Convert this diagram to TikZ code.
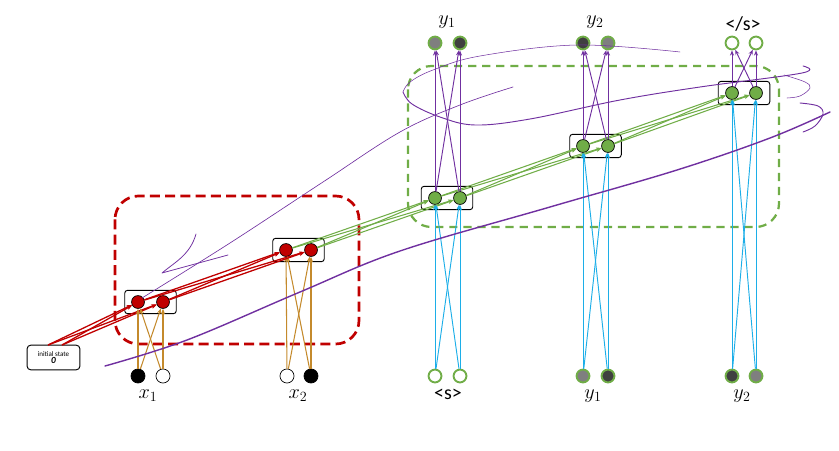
\documentclass[tikz,border=0pt]{standalone}
\usepackage{fontspec}
\setsansfont{Carlito}
\usepackage{tikz}
\usetikzlibrary{arrows.meta}
\definecolor{encred}{HTML}{C00000}
\definecolor{decgreen}{HTML}{70AD47}
\definecolor{inblue}{HTML}{1CAEE8}
\definecolor{ingold}{HTML}{C48A2C}
\definecolor{outpurple}{HTML}{7030A0}
\definecolor{inkpurple}{HTML}{7030A0}
\definecolor{outgrey}{HTML}{7F7F7F}
\definecolor{outdark}{HTML}{404040}

\begin{document}
\begin{tikzpicture}[x=0.03cm,y=-0.03cm,
  unit/.style={circle,draw=black,line width=0.6pt,minimum size=11pt,inner sep=0pt},
  xunit/.style={unit,minimum size=12pt},
  outunit/.style={circle,draw=decgreen,line width=1.6pt,minimum size=11pt,inner sep=0pt},
  pairbox/.style={draw=black,rounded corners=2.5pt,line width=0.8pt,minimum width=44pt,minimum height=20pt,inner sep=0pt},
  lbl/.style={font=\LARGE},
  tag/.style={font=\sffamily\fontsize{17}{19}\selectfont},
  tip/.style={-{Stealth[length=4.5pt,width=3.5pt]}},
  recur/.style={tip,encred,line width=1.1pt},
  decrec/.style={tip,decgreen,line width=0.9pt},
  goldin/.style={tip,ingold,line width=0.9pt},
  bluein/.style={tip,inblue,line width=0.8pt},
  purpout/.style={tip,outpurple,line width=0.8pt},
  ink/.style={inkpurple,line cap=round,line join=round}]
\useasboundingbox (0,0) rectangle (839,451);

% encoder / decoder regions
\draw[encred,line width=2.3pt,dash pattern=on 8.5pt off 4.5pt,rounded corners=20pt] (115,196) rectangle (359,344);
\draw[decgreen,line width=1.9pt,dash pattern=on 7pt off 5pt,rounded corners=20pt] (408,66) rectangle (779,227);

% hidden state boxes
\node[pairbox] (b1) at (150.5,302) {};
\node[pairbox] (b2) at (298.5,250) {};
\node[pairbox] (b3) at (447,198) {};
\node[pairbox] (b4) at (595.5,146) {};
\node[pairbox] (b5) at (744,93) {};

% initial state
\node[draw,rounded corners=3pt,line width=0.8pt,minimum width=45pt,minimum height=21pt,inner sep=1pt,
  align=center,font=\sffamily\fontsize{6}{6.5}\selectfont] (init) at (53.5,357.5)
  {initial state\\[0pt]{\fontsize{8}{8}\selectfont\bfseries\itshape 0}};
\coordinate (s0a) at (48,345);
\coordinate (s0b) at (62,345);

% hidden units
\node[unit,fill=encred] (h1a) at (138,302) {};
\node[unit,fill=encred] (h1b) at (163,302) {};
\node[unit,fill=encred] (h2a) at (286,250) {};
\node[unit,fill=encred] (h2b) at (311,250) {};
\node[unit,fill=decgreen] (d1a) at (435,198) {};
\node[unit,fill=decgreen] (d1b) at (460,198) {};
\node[unit,fill=decgreen] (d2a) at (583,146) {};
\node[unit,fill=decgreen] (d2b) at (608,146) {};
\node[unit,fill=decgreen] (d3a) at (732,93) {};
\node[unit,fill=decgreen] (d3b) at (756,93) {};

% source inputs
\node[xunit,fill=black] (x1a) at (138,376) {};
\node[xunit,fill=white] (x1b) at (163,376) {};
\node[xunit,fill=white] (x2a) at (287,376) {};
\node[xunit,fill=black] (x2b) at (311,376) {};

% decoder inputs
\node[outunit,fill=white] (i1a) at (435,376) {};
\node[outunit,fill=white] (i1b) at (460,376) {};
\node[outunit,fill=outgrey] (i2a) at (583,376) {};
\node[outunit,fill=outdark] (i2b) at (608,376) {};
\node[outunit,fill=outdark] (i3a) at (732,376) {};
\node[outunit,fill=outgrey] (i3b) at (756,376) {};

% outputs
\node[outunit,fill=outgrey] (o1a) at (435,43) {};
\node[outunit,fill=outdark] (o1b) at (460,43) {};
\node[outunit,fill=outdark] (o2a) at (583,43) {};
\node[outunit,fill=outgrey] (o2b) at (608,43) {};
\node[outunit,fill=white] (o3a) at (732,43) {};
\node[outunit,fill=white] (o3b) at (756,43) {};

% labels
\node[lbl] (lx1) at (148,396) {$x_1$};
\node[lbl] (lx2) at (298,396) {$x_2$};
\node[tag] (ls) at (448,394) {\textless s\textgreater};
\node[lbl] (ly1b) at (593,396) {$y_1$};
\node[lbl] (ly2b) at (742,396) {$y_2$};
\node[lbl] (ly1t) at (447,22) {$y_1$};
\node[lbl] (ly2t) at (595,22) {$y_2$};
\node[tag] (le) at (743,24) {\textless/s\textgreater};

% connections
\foreach \s in {s0a,s0b}
  \foreach \t in {h1a,h1b}
    \draw[recur] (\s) -- (\t);
\foreach \s in {a,b}
  \foreach \t in {a,b} {
    \draw[recur] (h1\s) -- (h2\t);
    \draw[goldin] (x1\s) -- (h1\t);
    \draw[goldin] (x2\s) -- (h2\t);
  }
\foreach \p/\q in {h2/d1,d1/d2,d2/d3}
  \foreach \s in {a,b}
    \foreach \t in {a,b}
      \draw[decrec] (\p\s) -- (\q\t);
\foreach \n in {1,2,3}
  \foreach \s in {a,b}
    \foreach \t in {a,b} {
      \draw[bluein] (i\n\s) -- (d\n\t);
      \draw[purpout] (d\n\s) -- (o\n\t);
    }

% hand-drawn strokes
\draw[ink,line width=1.2pt] plot[smooth,tension=0.6] coordinates {(105,366) (187,340) (300,292) (400,251) (550,207) (677,170) (770,138) (830,112)};
\draw[ink,line width=0.55pt] plot[smooth,tension=0.6] coordinates {(142,298) (230,243) (323,182) (400,132) (460,105) (513,87)};
\draw[ink,line width=0.65pt] (196,234) .. controls (190,255) and (175,262) .. (162,273) -- (228,255);
\draw[ink,line width=0.45pt] plot[smooth,tension=0.6] coordinates {(680,52) (577,45) (480,56) (433,70) (410,82) (403,92)};
\draw[ink,line width=0.8pt] plot[smooth,tension=0.6] coordinates {(403,92) (412,104) (440,117) (475,125) (530,119) (620,100) (700,87) (802,73) (803,66)};
\draw[ink,line width=0.45pt] plot[smooth,tension=0.6] coordinates {(784,75) (805,82) (810,88) (800,96) (787,98)};
\draw[ink,line width=0.8pt] plot[smooth,tension=0.6] coordinates {(800,103) (818,106) (823,114) (815,126) (803,132)};
\end{tikzpicture}
\end{document}
